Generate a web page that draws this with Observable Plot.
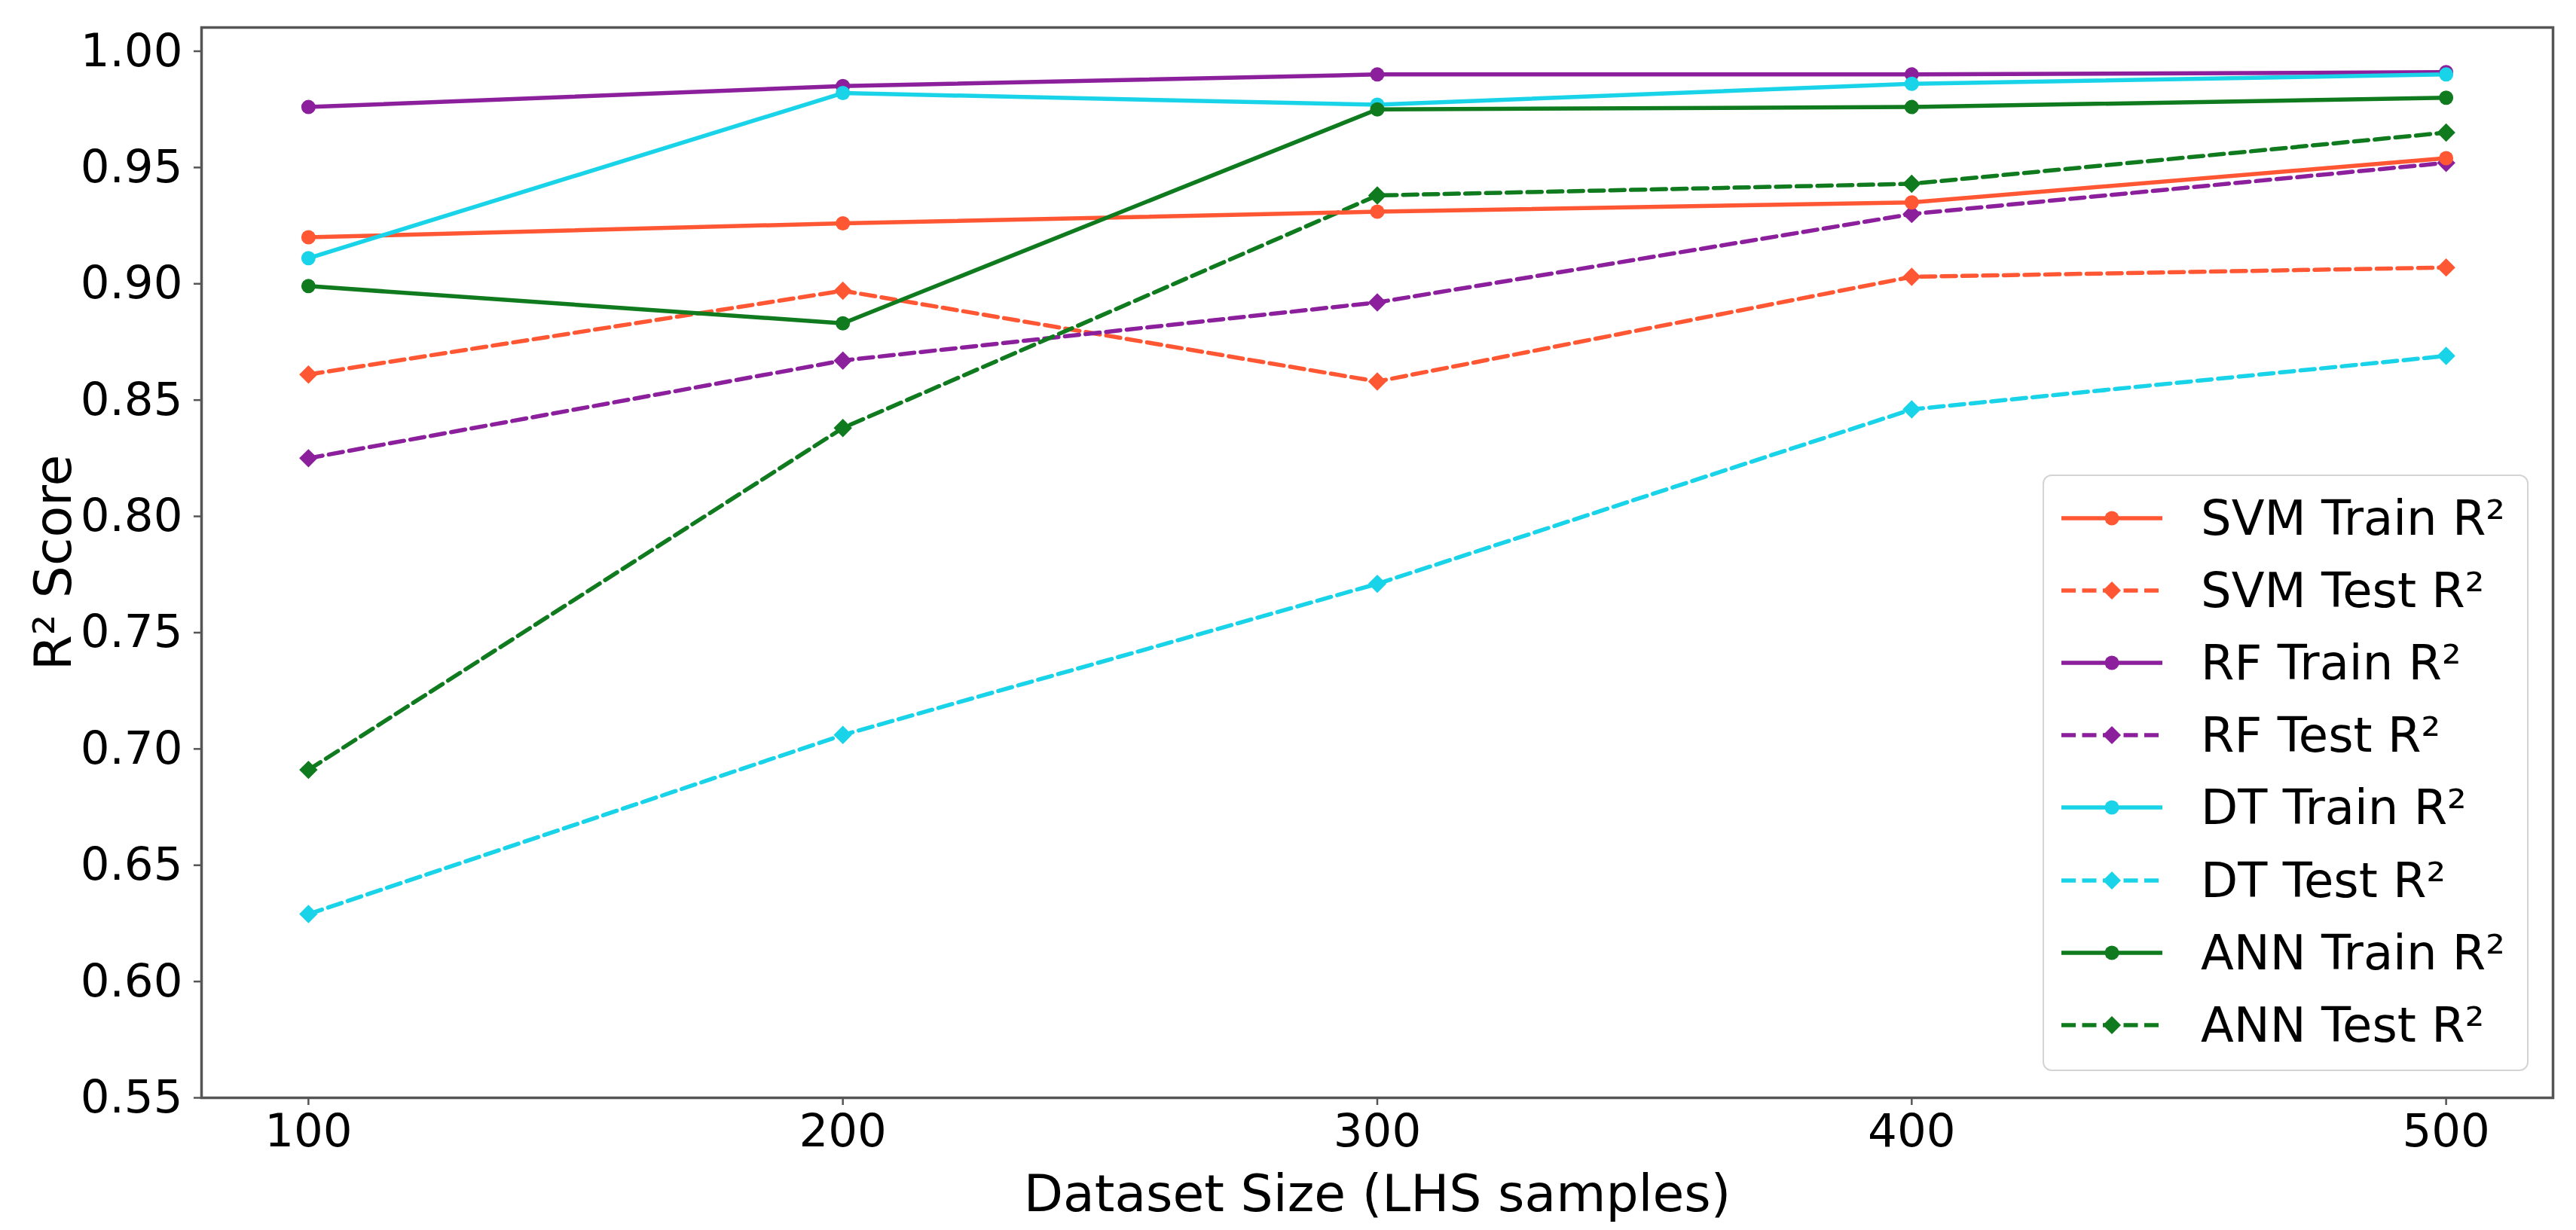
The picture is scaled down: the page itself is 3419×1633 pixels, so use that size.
<!DOCTYPE html>
<html>
<head>
<meta charset="utf-8">
<script src="https://cdn.jsdelivr.net/npm/d3@7"></script>
<script src="https://cdn.jsdelivr.net/npm/@observablehq/plot@0.6"></script>
<style>
  html, body { margin: 0; padding: 0; background: #fff; }
  #wrap { position: relative; width: 3419px; height: 1633px; font-family: "DejaVu Sans", sans-serif; }
  #legend { position: absolute; box-sizing: border-box; background: rgba(255,255,255,0.8);
            border: 2.5px solid #d4d4d4; border-radius: 12px; }
  .row { position: absolute; left: 0; height: 96px; display: flex; align-items: center; }
  .row svg { position: absolute; left: 21px; }
  .row span { position: absolute; left: 208px; font-size: 64px; color: #000; white-space: nowrap; line-height: 1; }
  g[aria-label="x-axis label"] text, g[aria-label="y-axis label"] text { font-size: 68px; }
</style>
</head>
<body>
<div id="wrap"></div>
<script>
// ---- data ----
const sizes = [100, 200, 300, 400, 500];
const models = ["SVM", "RF", "DT", "ANN"];
const colors = ["#FF5733", "#8B1F9C", "#19D3E8", "#0F7B1E"];

const svmTrain = [0.920, 0.926, 0.931, 0.935, 0.954];
const svmTest  = [0.861, 0.897, 0.858, 0.903, 0.907];
const rfTrain  = [0.976, 0.985, 0.990, 0.990, 0.991];
const rfTest   = [0.825, 0.867, 0.892, 0.930, 0.952];
const dtTrain  = [0.911, 0.982, 0.977, 0.986, 0.990];
const dtTest   = [0.629, 0.706, 0.771, 0.846, 0.869];
const annTrain = [0.899, 0.883, 0.975, 0.976, 0.980];
const annTest  = [0.691, 0.838, 0.938, 0.943, 0.965];

const yTicks = [0.55, 0.60, 0.65, 0.70, 0.75, 0.80, 0.85, 0.90, 0.95, 1.00];

const seriesTrain = {SVM: svmTrain, RF: rfTrain, DT: dtTrain, ANN: annTrain};
const seriesTest  = {SVM: svmTest,  RF: rfTest,  DT: dtTest,  ANN: annTest};

const trainRows = models.flatMap(m => sizes.map((s, i) => ({model: m, size: s, r2: seriesTrain[m][i]})));
const testRows  = models.flatMap(m => sizes.map((s, i) => ({model: m, size: s, r2: seriesTest[m][i]})));

const dash = "19,8.5";
const lw = 5.5;

const chart = Plot.plot({
  width: 3419,
  height: 1633,
  marginLeft: 267,
  marginRight: 31,
  marginTop: 36,
  marginBottom: 176,
  style: {fontFamily: "DejaVu Sans, sans-serif", background: "#fff", color: "#000"},
  x: {domain: [80, 520]},
  y: {domain: [0.55, 1.0102]},
  color: {domain: models, range: colors},
  marks: [
    Plot.axisY({ticks: yTicks, tickFormat: d3.format(".2f"), tickSize: 10, tickPadding: 15, fontSize: 61,
                stroke: "#555", strokeWidth: 2.5, label: "R² Score", labelArrow: "none",
                labelAnchor: "center", labelOffset: 222}),
    Plot.axisX({ticks: sizes, tickFormat: d => String(d), tickSize: 10, tickPadding: 11, fontSize: 61,
                stroke: "#555", strokeWidth: 2.5, label: "Dataset Size (LHS samples)", labelArrow: "none",
                labelAnchor: "center", labelOffset: 150}),
    Plot.line(testRows, {x: "size", y: "r2", z: "model", stroke: "model", strokeWidth: lw, strokeDasharray: dash}),
    Plot.line(trainRows, {x: "size", y: "r2", z: "model", stroke: "model", strokeWidth: lw}),
    Plot.dot(testRows, {x: "size", y: "r2", fill: "model", symbol: "diamond2", r: 11, stroke: null}),
    Plot.dot(trainRows, {x: "size", y: "r2", fill: "model", symbol: "circle", r: 9.5, stroke: null}),
    Plot.frame({stroke: "#555", strokeWidth: 3.5})
  ]
});

const wrap = document.getElementById("wrap");
wrap.appendChild(chart);

// ---- legend (overlay inside the plot area, like matplotlib's) ----
const legend = document.createElement("div");
legend.id = "legend";
Object.assign(legend.style, {left: "2711px", top: "630px", width: "645px", height: "792px"});
wrap.appendChild(legend);

const entries = models.flatMap((m, i) => [
  {label: `${m} Train R²`, color: colors[i], dashed: false},
  {label: `${m} Test R²`, color: colors[i], dashed: true}
]);

entries.forEach((e, k) => {
  const row = document.createElement("div");
  row.className = "row";
  row.style.top = (56 - 48 + k * 96.1) + "px";
  row.style.width = "100%";
  const svg = d3.create("svg").attr("width", 140).attr("height", 40).style("top", "28px");
  svg.append("line").attr("x1", 2).attr("x2", 136).attr("y1", 20).attr("y2", 20)
    .attr("stroke", e.color).attr("stroke-width", lw)
    .attr("stroke-dasharray", e.dashed ? dash : null);
  if (e.dashed) {
    svg.append("path").attr("d", "M69,8L81,20L69,32L57,20Z").attr("fill", e.color);
  } else {
    svg.append("circle").attr("cx", 69).attr("cy", 20).attr("r", 9.5).attr("fill", e.color);
  }
  row.appendChild(svg.node());
  const span = document.createElement("span");
  span.textContent = e.label;
  row.appendChild(span);
  legend.appendChild(row);
});
</script>
</body>
</html>
